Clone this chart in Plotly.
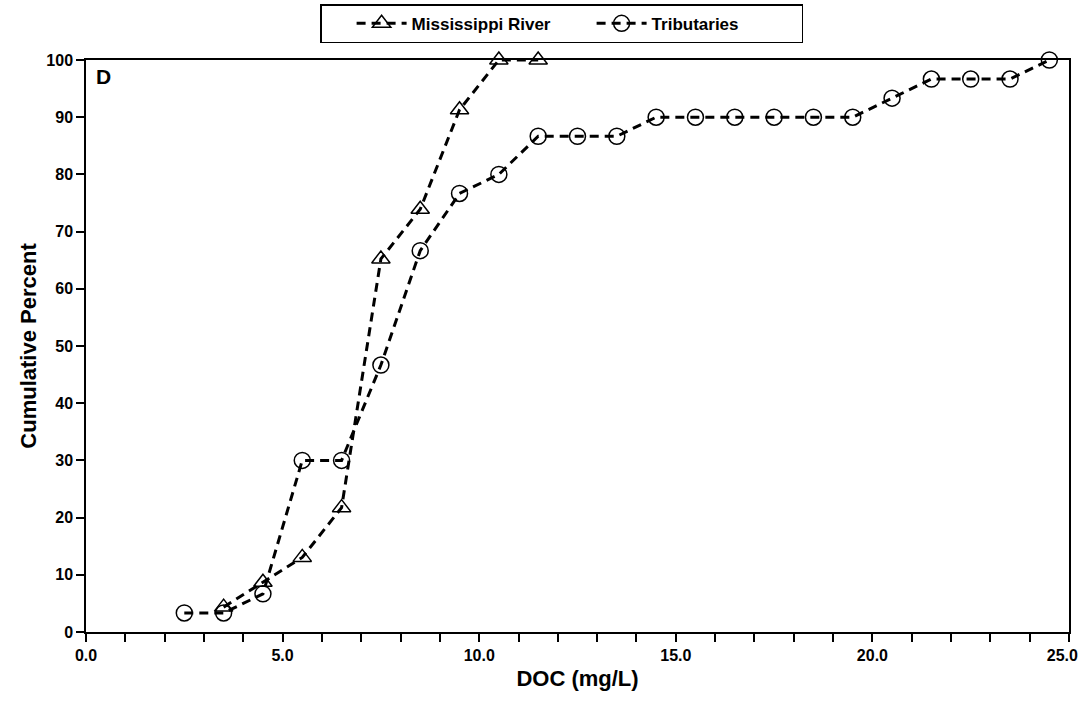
import plotly.graph_objects as go

miss_x = [3.5, 4.5, 5.5, 6.5, 7.5, 8.5, 9.5, 10.5, 11.5]
miss_y = [4.35, 8.70, 13.04, 21.74, 65.22, 73.91, 91.30, 100.0, 100.0]

trib_x = [2.5, 3.5, 4.5, 5.5, 6.5, 7.5, 8.5, 9.5, 10.5, 11.5, 12.5, 13.5, 14.5,
          15.5, 16.5, 17.5, 18.5, 19.5, 20.5, 21.5, 22.5, 23.5, 24.5]
trib_y = [3.33, 3.33, 6.67, 30.0, 30.0, 46.67, 66.67, 76.67, 80.0, 86.67, 86.67,
          86.67, 90.0, 90.0, 90.0, 90.0, 90.0, 90.0, 93.33, 96.67, 96.67, 96.67, 100.0]

x_ticks = [0, 5, 10, 15, 20, 25]
x_tick_labels = ["0.0", "5.0", "10.0", "15.0", "20.0", "25.0\u00a0\u00a0\u00a0"]
y_ticks = [0, 10, 20, 30, 40, 50, 60, 70, 80, 90, 100]

FONT = "Liberation Sans, Arial, sans-serif"

fig = go.Figure()
fig.add_trace(go.Scatter(
    x=miss_x, y=miss_y, name="Mississippi River", mode="lines+markers",
    line=dict(color="black", width=3, dash="9px,6px"),
    marker=dict(symbol="triangle-up-open", size=16, color="black", line=dict(width=1.5, color="black")),
    cliponaxis=False,
))
fig.add_trace(go.Scatter(
    x=trib_x, y=trib_y, name="Tributaries", mode="lines+markers",
    line=dict(color="black", width=3, dash="9px,6px"),
    marker=dict(symbol="circle-open", size=16, color="black", line=dict(width=1.5, color="black")),
    cliponaxis=False,
))

fig.update_layout(
    width=1080, height=721,
    margin=dict(l=86, r=11, t=60, b=89, autoexpand=False),
    paper_bgcolor="white", plot_bgcolor="white",
    font=dict(family=FONT, color="black"),
    legend=dict(
        orientation="h", xref="container", x=0.52, xanchor="center",
        yref="container", y=0.967, yanchor="middle",
        bordercolor="black", borderwidth=1.5,
        font=dict(size=17, family=FONT, color="black", weight="bold"),
        entrywidth=145, itemwidth=50, indentation=30,
    ),
    xaxis=dict(
        range=[-0.0001, 25.0001], showgrid=False, zeroline=False,
        showline=True, linecolor="black", linewidth=1.5, mirror=True,
        tickmode="array", tickvals=x_ticks, ticktext=x_tick_labels,
        ticks="outside", ticklen=8, tickwidth=1.5, tickcolor="black",
        ticklabeloverflow="allow",
        minor=dict(dtick=1, ticks="outside", ticklen=8, tickwidth=1.5, tickcolor="black"),
        tickfont=dict(size=16, family=FONT, weight="bold"),
        title=dict(text="DOC (mg/L)", font=dict(size=22, family=FONT, weight="bold"), standoff=8),
        automargin=False,
    ),
    yaxis=dict(
        range=[0, 100], showgrid=False, zeroline=False,
        showline=True, linecolor="black", linewidth=1.5, mirror=True,
        tickmode="array", tickvals=y_ticks,
        ticks="outside", ticklen=8, tickwidth=1.5, tickcolor="black",
        tickfont=dict(size=16, family=FONT, weight="bold"),
        title=dict(text="Cumulative Percent", font=dict(size=22, family=FONT, weight="bold"), standoff=4),
        automargin=False,
    ),
    annotations=[dict(
        text="D", xref="paper", yref="paper", x=0.008, y=0.995, xanchor="left", yanchor="top",
        showarrow=False, font=dict(size=21, family=FONT, weight="bold", color="black"),
    )],
)

fig.write_html("out.html")
